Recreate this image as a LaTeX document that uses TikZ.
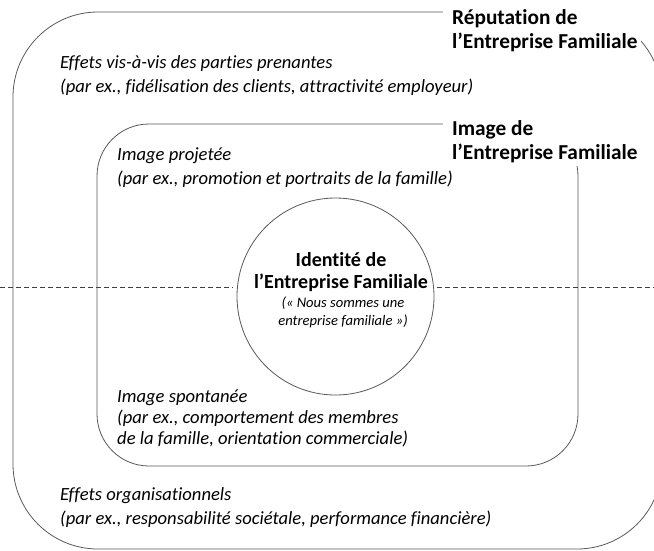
\documentclass[tikz,border=0pt]{standalone}
\usepackage{fontspec}
\setmainfont{Carlito}[Ligatures=CommonOff]
\begin{document}
\begin{tikzpicture}[x=1pt,y=-1pt,
  boxline/.style={draw=black!65, line width=0.8pt},
  body/.style={anchor=base west, inner sep=0pt, align=left, font=\fontsize{18.6}{24}\selectfont\itshape},
  lbl/.style={anchor=base west, inner sep=0pt, align=left, font=\fontsize{21.3}{24}\selectfont\bfseries},
  sepline/.style={draw=black!75, line width=0.8pt, dash pattern=on 5pt off 3pt}]
\useasboundingbox (0,0) rectangle (654,550);
\clip (0,0) rectangle (654,550);
% boxes
\node[boxline, rounded corners=85pt, minimum width=649pt, minimum height=537pt, inner sep=0pt] (outer) at (337.5,280.5) {};
\node[boxline, rounded corners=52pt, minimum width=481pt, minimum height=342pt, inner sep=0pt] (inner) at (337.5,295) {};
% dashed separation line
\coordinate (dl) at (0,287);
\coordinate (dr) at (654,287);
\node[boxline, circle, fill=white, minimum size=197pt, inner sep=0pt] (circ) at (335.5,296.5) {};
\draw[sepline] (dl) -- ([xshift=-4pt]circ.west |- dl);
\draw[sepline] ([xshift=3pt]circ.east |- dr) -- (dr);
% white patches behind labels
\fill[white] (443,0) rectangle (641,58);
\fill[white] (443,110) rectangle (641,166);
% labels (base anchor = baseline of last line)
\node[lbl] (rep) at (452,48) {Réputation de\\l’Entreprise Familiale};
\node[lbl] (img) at (452,159) {Image de\\l’Entreprise Familiale};
% texts
\node[body] (eff1) at (60,92) {Effets vis-à-vis des parties prenantes\\(par ex., fidélisation des clients, attractivité employeur)};
\node[body] (proj) at (117,184) {Image projetée\\(par ex., promotion et portraits de la famille)};
\node[body, font=\fontsize{18.6}{21}\selectfont\itshape] (spon) at (117,444) {Image spontanée\\(par ex., comportement des membres\\de la famille, orientation commerciale)};
\node[body] (eff2) at (60,524) {Effets organisationnels\\(par ex., responsabilité sociétale, performance financière)};
\node[anchor=base, inner sep=0pt, align=center, font=\fontsize{20}{22}\selectfont\bfseries] (idt) at (341,288) {Identité de\\l’Entreprise Familiale};
\node[anchor=base, inner sep=0pt, align=center, font=\fontsize{14.6}{18}\selectfont\itshape] (quote) at (343,325) {(« Nous sommes une\\entreprise familiale »)};
\end{tikzpicture}
\end{document}
